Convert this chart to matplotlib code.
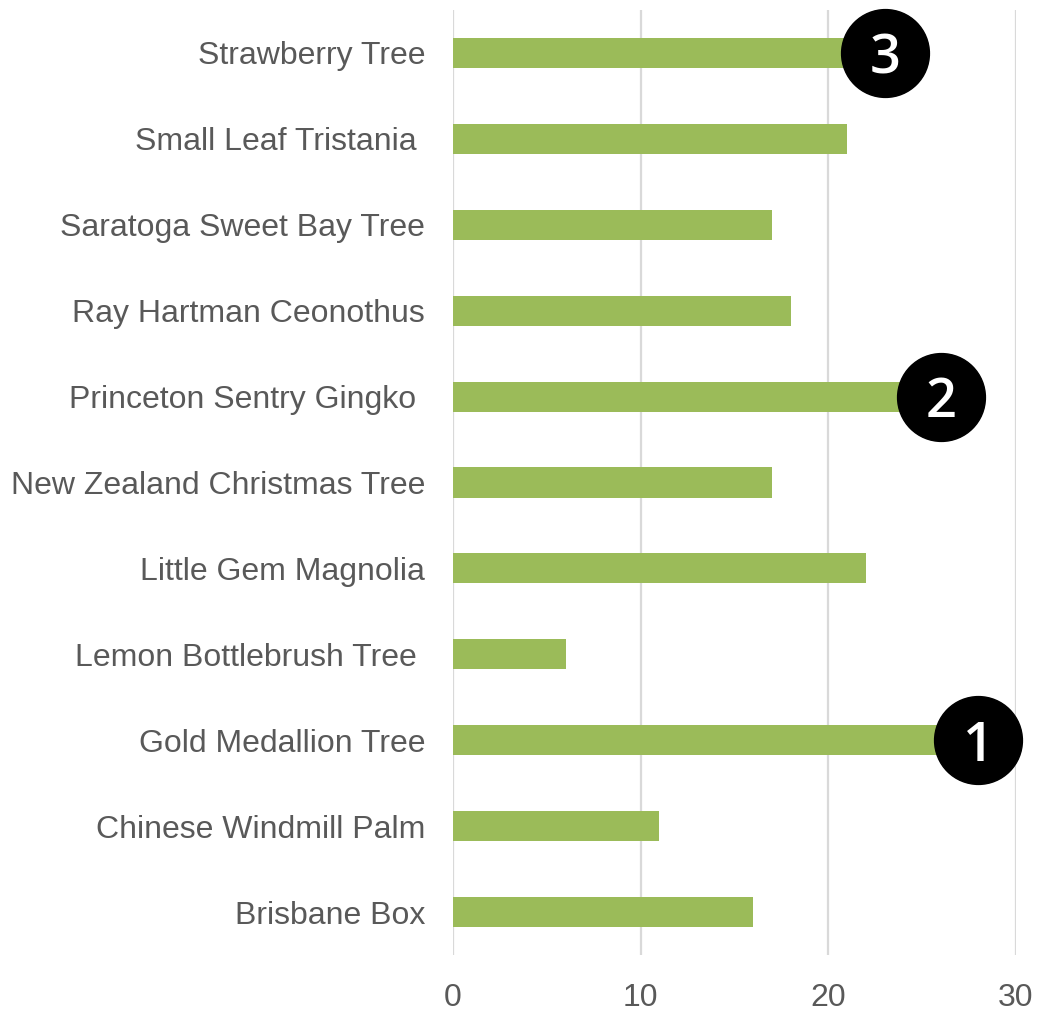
import matplotlib
matplotlib.use("Agg")
import matplotlib.pyplot as plt

categories = ["Brisbane Box", "Chinese Windmill Palm", "Gold Medallion Tree",
              "Lemon Bottlebrush Tree ", "Little Gem Magnolia",
              "New Zealand Christmas Tree", "Princeton Sentry Gingko ",
              "Ray Hartman Ceonothus", "Saratoga Sweet Bay Tree",
              "Small Leaf Tristania ", "Strawberry Tree"]
values = [16, 11, 28, 6, 22, 17, 26, 18, 17, 21, 23]
rank_labels = {"Gold Medallion Tree": "1", "Princeton Sentry Gingko ": "2", "Strawberry Tree": "3"}
xticks = [0, 10, 20, 30]

W, H = 1047, 1013
fig = plt.figure(figsize=(W / 100, H / 100), dpi=100)
ax = fig.add_axes([453 / W, 1 - 955 / H, (1016 - 453) / W, (955 - 10) / H])

ypos = list(range(len(categories)))
ax.barh(ypos, values, height=0.35, color="#9BBB59", zorder=2)

for y, cat, v in zip(ypos, categories, values):
    if cat in rank_labels:
        ax.scatter([v], [y], s=4000, color="black", zorder=3, clip_on=False)
        ax.text(v, y, rank_labels[cat], color="white", ha="center", va="center_baseline",
                fontsize=39, fontweight="semibold", family=["Open Sans", "DejaVu Sans"],
                zorder=4, clip_on=False)

ax.set_xlim(0, 30)
ax.set_ylim(-0.5, len(categories) - 0.5)
ax.set_xticks(xticks)
ax.set_xticklabels([str(t) for t in xticks])
ax.set_yticks(ypos)
ax.set_yticklabels(categories, va="center_baseline")
ax.tick_params(axis="both", length=0, labelcolor="#595959", labelsize=23)
ax.tick_params(axis="y", pad=20)
ax.tick_params(axis="x", pad=20)
for lab in ax.get_xticklabels() + ax.get_yticklabels():
    lab.set_family(["Liberation Sans", "DejaVu Sans"])
ax.grid(axis="x", color="#D9D9D9", linewidth=1.6, zorder=0)
ax.set_axisbelow(True)
for s in ax.spines.values():
    s.set_visible(False)

fig.savefig("out.png", dpi=100)
